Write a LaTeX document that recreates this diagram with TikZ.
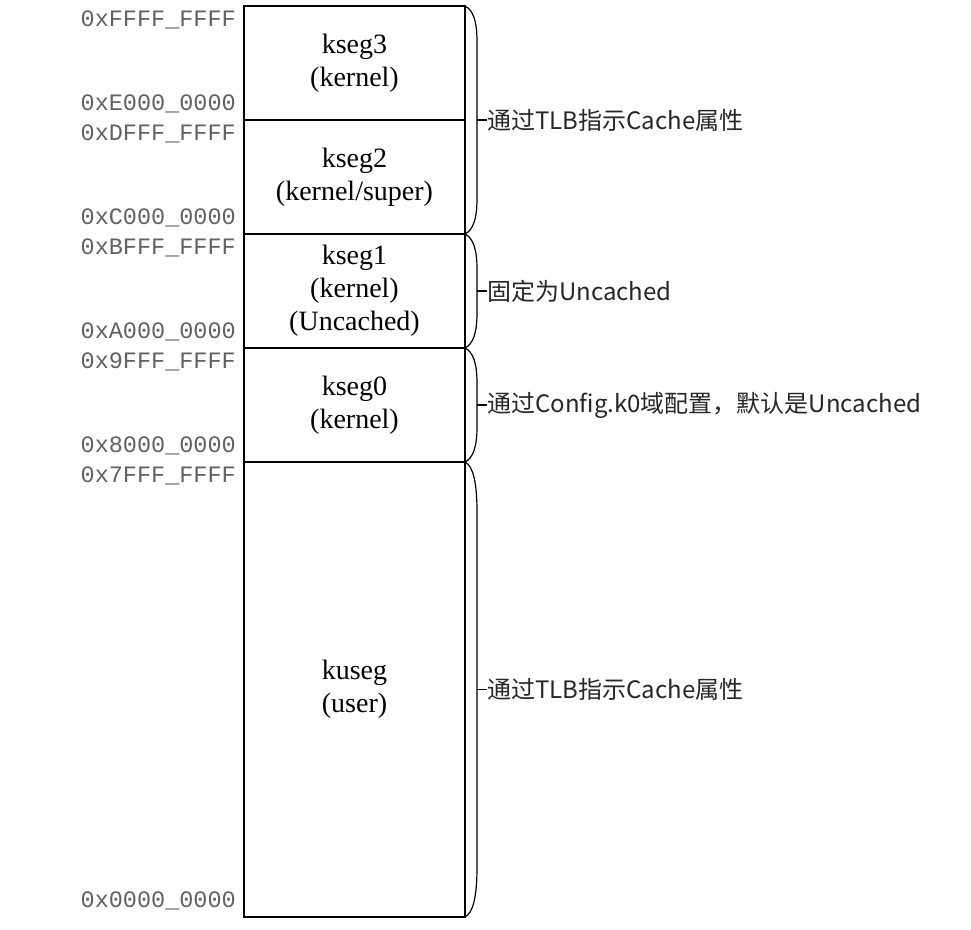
\documentclass[tikz,border=0pt]{standalone}
\usepackage{fontspec}
\setmainfont{Liberation Serif}
\newfontfamily\addrfont{Liberation Mono}
\newfontfamily\cjk{Noto Sans CJK SC}
\usetikzlibrary{positioning,calc}

\begin{document}
\begin{tikzpicture}[x=1pt, y=-1pt, node distance=0pt]
\tikzstyle{seg}=[draw, line width=1.4pt, minimum width=221pt, minimum height=114pt,
  inner sep=0pt, outer sep=0pt, align=center, font=\fontsize{28}{33}\selectfont]
\tikzstyle{addr}=[text=black!62, inner sep=0pt, anchor=east, font=\addrfont\fontsize{23.5}{26}\selectfont]
\tikzstyle{note}=[inner sep=0pt, anchor=west, text=black!85, font=\cjk\fontsize{24}{28}\selectfont]
\tikzstyle{brc}=[line width=1.2pt]
\useasboundingbox (0,0) rectangle (971,929);
% the address space, top to bottom
\node[seg] (k3) at (354.5,63) {kseg3\\(kernel)};
\node[seg, below=of k3] (k2) {kseg2\\(kernel/super)};
\node[seg, below=of k2] (k1) {kseg1\\(kernel)\\(Uncached)};
\node[seg, below=of k1] (k0) {kseg0\\(kernel)};
\node[seg, below=of k0, minimum height=455pt] (ku) {kuseg\\(user)};
% addresses
\node[addr] (a3h) at ([xshift=-8pt, yshift=-14pt]k3.north west) {0xFFFF\_FFFF};
\node[addr] (a3l) at ([xshift=-8pt, yshift=16pt]k3.south west) {0xE000\_0000};
\node[addr] (a2h) at ([xshift=-8pt, yshift=-14pt]k2.north west) {0xDFFF\_FFFF};
\node[addr] (a2l) at ([xshift=-8pt, yshift=16pt]k2.south west) {0xC000\_0000};
\node[addr] (a1h) at ([xshift=-8pt, yshift=-14pt]k1.north west) {0xBFFF\_FFFF};
\node[addr] (a1l) at ([xshift=-8pt, yshift=16pt]k1.south west) {0xA000\_0000};
\node[addr] (a0h) at ([xshift=-8pt, yshift=-14pt]k0.north west) {0x9FFF\_FFFF};
\node[addr] (a0l) at ([xshift=-8pt, yshift=16pt]k0.south west) {0x8000\_0000};
\node[addr] (auh) at ([xshift=-8pt, yshift=-14pt]ku.north west) {0x7FFF\_FFFF};
\node[addr] (aul) at ([xshift=-8pt, yshift=16pt]ku.south west) {0x0000\_0000};
% braces and notes
\coordinate[right=12pt of k3.south east] (t1);
\coordinate[right=12pt of k1.east] (t2);
\coordinate[right=12pt of k0.east] (t3);
\coordinate[right=12pt of ku.east] (t4);
\node[note, right=10pt of t1] (n1) {通过TLB指示Cache属性};
\node[note, right=10pt of t2] (n2) {固定为Uncached};
\node[note, right=10pt of t3] (n3) {通过Config.k0域配置，默认是Uncached};
\node[note, right=10pt of t4] (n4) {通过TLB指示Cache属性};
\draw[brc] (k3.north east) .. controls +(8,4) and +(0,-20) .. ([shift={(12,35)}]k3.north east)
  -- ([shift={(12,-35)}]k2.south east) .. controls +(0,20) and +(8,-4) .. (k2.south east);
\draw[brc] (k1.north east) .. controls +(8,4) and +(0,-20) .. ([shift={(12,35)}]k1.north east)
  -- ([shift={(12,-35)}]k1.south east) .. controls +(0,20) and +(8,-4) .. (k1.south east);
\draw[brc] (k0.north east) .. controls +(8,4) and +(0,-20) .. ([shift={(12,35)}]k0.north east)
  -- ([shift={(12,-35)}]k0.south east) .. controls +(0,20) and +(8,-4) .. (k0.south east);
\draw[brc] (ku.north east) .. controls +(8,4) and +(0,-30) .. ([shift={(12,50)}]ku.north east)
  -- ([shift={(12,-50)}]ku.south east) .. controls +(0,30) and +(8,-4) .. (ku.south east);
\draw[brc] (t1) -- (n1.west);
\draw[brc] (t2) -- (n2.west);
\draw[brc] (t3) -- (n3.west);
\draw[brc] (t4) -- (n4.west);
\end{tikzpicture}
\end{document}
